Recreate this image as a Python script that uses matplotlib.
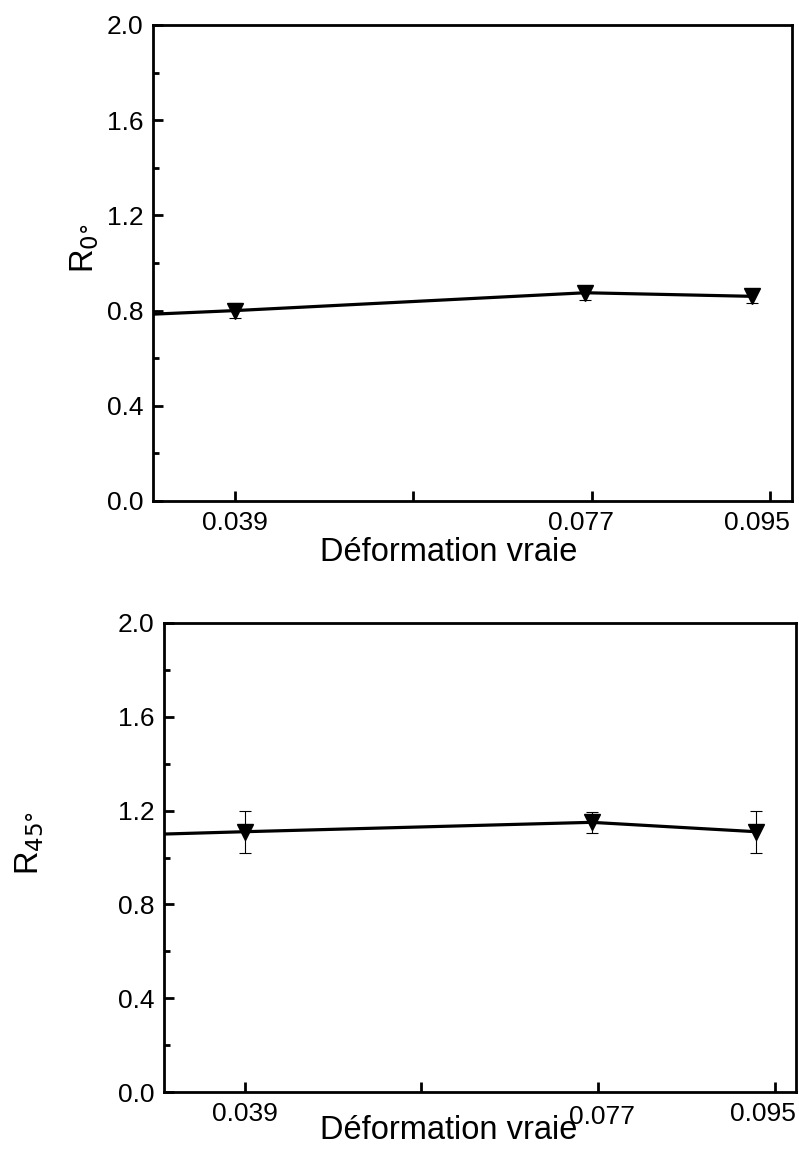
import numpy as np
import matplotlib.pyplot as plt
import matplotlib.transforms as mtransforms
from matplotlib.ticker import MultipleLocator

plt.rcParams['font.family'] = ['Liberation Sans', 'DejaVu Sans']

# strain values (x) and R values
x_line = [0.0303, 0.039, 0.0763, 0.094]
r0 = [0.785, 0.80, 0.875, 0.86]
r0_err = [0.0, 0.03, 0.03, 0.03]
r45 = [1.10, 1.11, 1.15, 1.11]
r45_err = [0.0, 0.09, 0.045, 0.09]

xtick_pos = [0.039, 0.058, 0.077, 0.096]
xtick_labels = ['0.039', '', '0.077', '0.095']

W, H = 799, 1159
fig = plt.figure(figsize=(W / 100, H / 100), dpi=100)


def make_axes(box, y, yerr, ylabel, ylab_xy, xlab_xy, label_shift):
    l, t, r, b = box
    ax = fig.add_axes([l / W, 1 - b / H, (r - l) / W, (b - t) / H])
    ax.errorbar(x_line[1:], y[1:], yerr=yerr[1:], fmt='none', ecolor='black',
                elinewidth=0.8, capsize=4, capthick=0.8, zorder=2)
    ax.plot(x_line, y, color='black', lw=2.3, marker='v', markersize=11,
            markevery=[1, 2, 3], zorder=3)
    ax.set_xlim(0.0303, 0.0983)
    ax.set_ylim(0, 2.0)
    ax.set_xticks(xtick_pos)
    ax.set_xticklabels(xtick_labels)
    ax.yaxis.set_major_locator(MultipleLocator(0.4))
    ax.yaxis.set_minor_locator(MultipleLocator(0.2))
    ax.yaxis.set_major_formatter(plt.FormatStrFormatter('%.1f'))
    ax.tick_params(axis='both', which='major', direction='in', length=7,
                   width=2, labelsize=19, pad=7)
    ax.tick_params(axis='y', which='minor', direction='in', length=4, width=2)
    for s in ax.spines.values():
        s.set_linewidth(2)
    ax.set_xlabel('Déformation vraie', fontsize=23.5)
    ax.xaxis.label.set_va('center')
    ax.xaxis.set_label_coords(*xlab_xy)
    ax.set_ylabel(ylabel, fontsize=23.5)
    ax.yaxis.label.set_va('center')
    ax.yaxis.set_label_coords(*ylab_xy)
    # shift some tick labels like in the original figure
    for lab, (dx, dy) in zip(ax.get_xticklabels(), label_shift):
        off = mtransforms.ScaledTranslation(dx / 100, dy / 100, fig.dpi_scale_trans)
        lab.set_transform(lab.get_transform() + off)
    return ax


ax1 = make_axes((153, 25, 792, 501), r0, r0_err, 'R$_{0°}$',
                (-0.107, 0.53), (0.463, -0.109),
                [(0, 0), (0, 0), (-11, 0), (-13, 0)])
ax2 = make_axes((164, 623, 796, 1092), r45, r45_err, 'R$_{45°}$',
                (-0.212, 0.53), (0.451, -0.083),
                [(0, 0), (0, 0), (4, -3), (-12, 0)])

fig.savefig('out.png', dpi=100)
